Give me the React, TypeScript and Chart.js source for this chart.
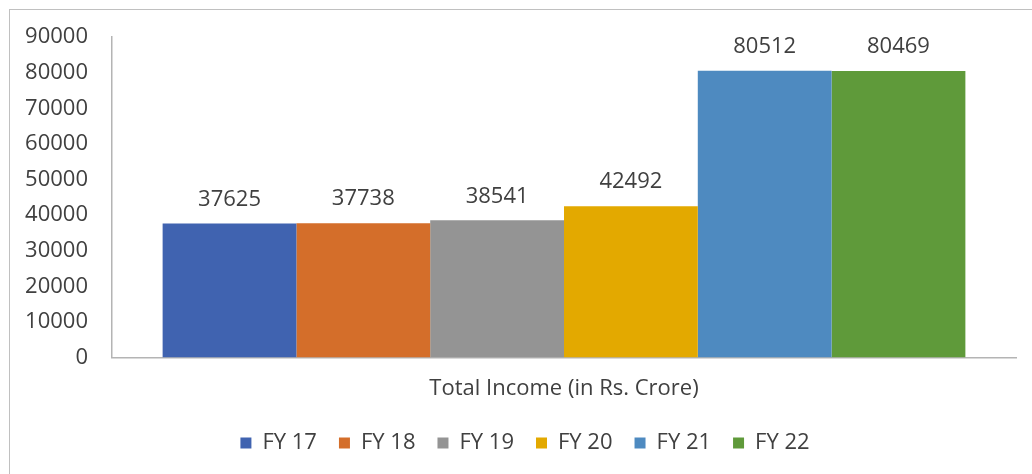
import React, { useEffect, useRef } from "react";
import { Chart, registerables } from "chart.js";

Chart.register(...registerables);

const categories = ["Total Income (in Rs. Crore)"];
const seriesNames = ["FY 17", "FY 18", "FY 19", "FY 20", "FY 21", "FY 22"];
const seriesValues = [37625, 37738, 38541, 42492, 80512, 80469];
const seriesColors = ["#4063B0", "#D46E2A", "#949494", "#E3A900", "#4E8AC0", "#5F9A3A"];
const yTicks = [0, 10000, 20000, 30000, 40000, 50000, 60000, 70000, 80000, 90000];

const FONT = "'Open Sans', 'Liberation Sans', sans-serif";
const TEXT = "#404040";
const FS = 22;

const labelPlugin = {
  id: "barValueLabels",
  afterLayout(chart: any) {
    const lg = chart.legend;
    if (lg) {
      lg.left += 12;
      lg.right += 12;
    }
  },
  afterDatasetsDraw(chart: any) {
    const ctx = chart.ctx;
    ctx.save();
    ctx.font = `${FS}px ${FONT}`;
    ctx.fillStyle = TEXT;
    ctx.textAlign = "center";
    ctx.textBaseline = "middle";
    chart.data.datasets.forEach((ds: any, i: number) => {
      const meta = chart.getDatasetMeta(i);
      meta.data.forEach((bar: any, j: number) => {
        ctx.fillText(String(ds.data[j]), bar.x, bar.y - 24);
      });
    });
    ctx.restore();
  },
};

export default function App() {
  const ref = useRef<HTMLCanvasElement | null>(null);
  useEffect(() => {
    document.body.style.overflow = "hidden";
    const chart = new Chart(ref.current!, {
      type: "bar",
      data: {
        labels: categories,
        datasets: seriesNames.map((name, i) => ({
          label: name,
          data: [seriesValues[i]],
          backgroundColor: seriesColors[i],
          borderWidth: 0,
          categoryPercentage: 0.888,
          barPercentage: 1,
        })),
      },
      options: {
        animation: false,
        responsive: false,
        maintainAspectRatio: false,
        layout: { padding: { top: 27, right: 15, left: 0, bottom: 9 } },
        plugins: {
          tooltip: { enabled: false },
          legend: {
            position: "bottom",
            labels: {
              boxWidth: 11,
              boxHeight: 11,
              padding: 22,
              color: TEXT,
              font: { family: FONT, size: FS },
            },
          },
        },
        scales: {
          x: {
            afterFit(scale: any) {
              scale.height -= 10;
            },
            grid: { display: false, drawTicks: false },
            border: { display: true, color: "#b4b4b4", width: 1.5 },
            ticks: { color: TEXT, font: { family: FONT, size: FS }, padding: 18 },
          },
          y: {
            min: 0,
            max: 90000,
            afterFit(scale: any) {
              scale.width = 102;
              scale.paddingTop = 0;
              scale.paddingBottom = 0;
            },
            afterBuildTicks(scale: any) {
              scale.ticks = yTicks.map((v) => ({ value: v }));
            },
            grid: { display: false, drawTicks: false },
            border: { display: true, color: "#b4b4b4", width: 1.5 },
            ticks: {
              color: TEXT,
              font: { family: FONT, size: FS },
              padding: 24,
              callback: (v: any) => String(v),
            },
          },
        },
      },
      plugins: [labelPlugin],
    } as any);
    return () => chart.destroy();
  }, []);

  return (
    <div
      style={{
        position: "absolute",
        left: 9,
        top: 9,
        width: 1023,
        height: 465,
        borderLeft: "1.5px solid #c0c0c0",
        borderTop: "1.5px solid #c0c0c0",
        boxSizing: "border-box",
        background: "#fff",
      }}
    >
      <canvas ref={ref} width={1021} height={463} style={{ display: "block" }} />
    </div>
  );
}
